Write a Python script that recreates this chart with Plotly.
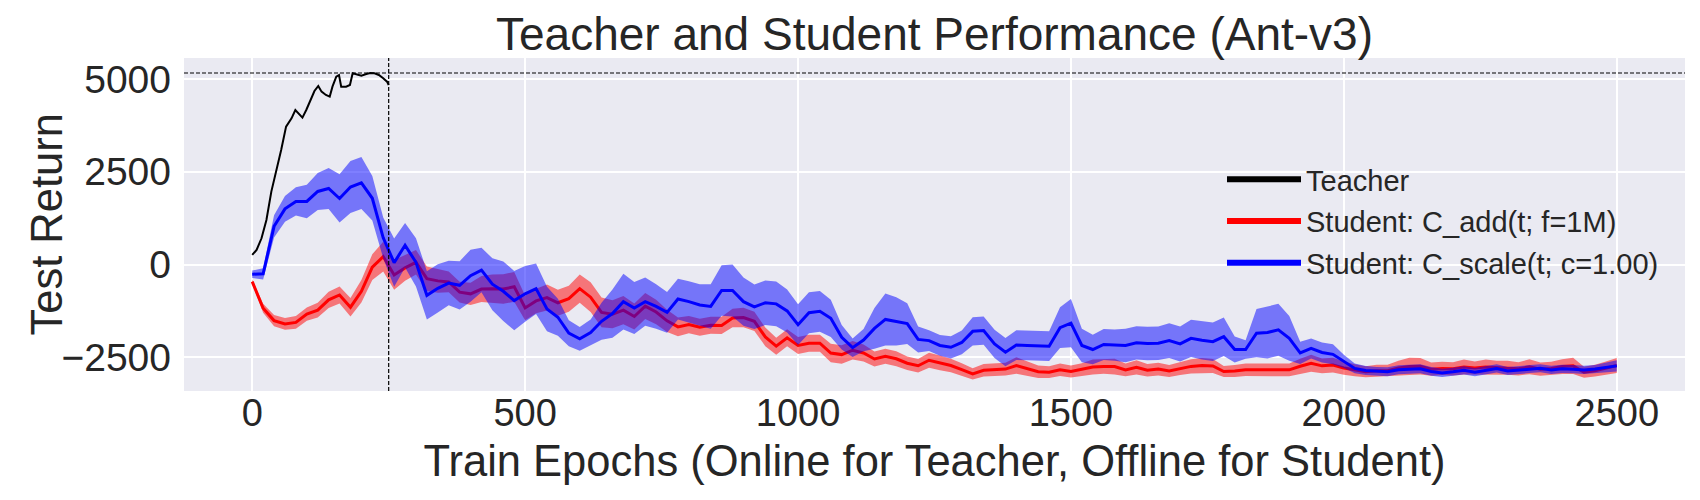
import plotly.graph_objects as go

# ---------------- data ----------------
teacher_epochs = [0, 8, 17, 26, 35, 44, 53, 62, 72, 79, 85, 92, 99, 108, 114, 121, 127, 135,
                  142, 147, 154, 159, 163, 172, 179, 184, 191, 200, 209, 216, 224, 232, 240, 247, 250]
teacher_return = [259, 394, 708, 1202, 1965, 2504, 3088, 3716, 3941, 4165, 4075, 3959, 4165, 4480,
                  4677, 4812, 4659, 4570, 4525, 4794, 5063, 5108, 4794, 4794, 4839, 5153, 5126, 5090,
                  5135, 5162, 5153, 5108, 5018, 4929, 4839]

student_epochs = list(range(0, 2501, 20))

add_mean = [-460, -1178, -1510, -1600, -1560, -1335, -1230, -950, -820, -1150,
            -720, -70, 214, -280, -90, 60, -380, -440, -470, -745,
            -790, -660, -650, -660, -600, -1170, -980, -890, -1030, -920,
            -650, -880, -1291, -1340, -1230, -1400, -1120, -1280, -1518, -1680,
            -1620, -1690, -1636, -1640, -1440, -1427, -1530, -1950, -2200, -1973,
            -2180, -2120, -2120, -2385, -2427, -2309, -2382, -2545, -2472, -2540,
            -2660, -2727, -2580, -2650, -2720, -2830, -2945, -2850, -2836, -2818,
            -2720, -2800, -2890, -2900, -2836, -2882, -2830, -2760, -2745, -2750,
            -2840, -2770, -2850, -2818, -2870, -2810, -2745, -2720, -2735, -2882,
            -2870, -2836, -2836, -2840, -2840, -2838, -2740, -2660, -2730, -2710,
            -2790, -2848, -2890, -2860, -2860, -2790, -2745, -2740, -2820, -2800,
            -2810, -2760, -2790, -2760, -2780, -2780, -2810, -2755, -2820, -2800,
            -2750, -2730, -2902, -2860, -2794, -2720]
add_std = [60, 120, 150, 160, 170, 180, 200, 220, 230, 250,
           300, 350, 400, 400, 350, 330, 330, 320, 280, 280,
           300, 350, 380, 400, 400, 330, 330, 350, 350, 350,
           380, 400, 400, 380, 380, 350, 350, 330, 300, 250,
           230, 230, 230, 230, 250, 260, 260, 250, 230, 230,
           230, 230, 230, 250, 250, 250, 230, 200, 200, 200,
           180, 180, 200, 200, 180, 170, 150, 170, 170, 170,
           220, 200, 170, 160, 170, 160, 170, 200, 200, 210,
           170, 190, 170, 170, 160, 170, 190, 200, 190, 150,
           160, 170, 170, 170, 170, 170, 200, 230, 200, 200,
           180, 160, 150, 160, 160, 200, 230, 220, 180, 180,
           180, 200, 180, 200, 190, 190, 180, 200, 180, 180,
           200, 220, 150, 160, 180, 200]

scale_mean = [-262, -250, 1030, 1500, 1700, 1700, 1970, 2050, 1780, 2090,
              2200, 1786, 720, 50, 520, 60, -830, -640, -500, -560,
              -300, -150, -530, -720, -973, -790, -650, -1200, -1420, -1850,
              -2000, -1830, -1530, -1320, -1000, -1170, -1000, -1130, -1290, -930,
              -1000, -1090, -1130, -700, -700, -1000, -1140, -1030, -1060, -1250,
              -1620, -1300, -1260, -1450, -1960, -2240, -2036, -1720, -1480, -1530,
              -1590, -2018, -2050, -2180, -2230, -2100, -1800, -1780, -2140, -2363,
              -2170, -2180, -2180, -2200, -1700, -1580, -2182, -2290, -2154, -2170,
              -2180, -2110, -2127, -2120, -2050, -2140, -1990, -2040, -2080, -1945,
              -2290, -2291, -1850, -1830, -1760, -1990, -2380, -2260, -2370, -2420,
              -2609, -2800, -2854, -2880, -2890, -2836, -2820, -2810, -2880, -2920,
              -2890, -2850, -2900, -2845, -2800, -2870, -2840, -2815, -2795, -2839,
              -2810, -2820, -2839, -2815, -2780, -2731]
scale_std = [100, 150, 300, 350, 380, 450, 500, 550, 650, 700,
             700, 600, 550, 650, 600, 650, 650, 650, 600, 650,
             700, 600, 700, 800, 800, 750, 680, 600, 500, 350,
             320, 350, 500, 650, 750, 700, 650, 600, 550, 550,
             550, 560, 600, 680, 700, 650, 600, 600, 600, 580,
             550, 550, 550, 500, 330, 250, 300, 550, 700, 650,
             550, 350, 280, 280, 300, 320, 380, 380, 380, 380,
             400, 400, 400, 400, 550, 650, 450, 400, 420, 420,
             450, 450, 450, 450, 470, 470, 500, 520, 520, 520,
             350, 250, 650, 700, 700, 600, 300, 270, 270, 270,
             180, 130, 120, 120, 120, 120, 120, 120, 120, 110,
             110, 110, 110, 110, 110, 110, 110, 110, 110, 110,
             110, 110, 110, 110, 130, 150]

legend_names = ["Teacher", "Student: C_add(t; f=1M)", "Student: C_scale(t; c=1.00)"]
y_ticks = [-2500, 0, 2500, 5000]
x_ticks = [0, 500, 1000, 1500, 2000, 2500]
switch_epoch = 250

# ---------------- figure ----------------
TXT = "#262626"
FONT = "Liberation Sans, Arial, sans-serif"

fig = go.Figure()


def band(x, mean, std, color):
    upper = [m + s for m, s in zip(mean, std)]
    lower = [m - s for m, s in zip(mean, std)]
    return go.Scatter(x=list(x) + list(x)[::-1], y=upper + lower[::-1], fill="toself",
                      fillcolor=color, line=dict(width=0), mode="lines",
                      hoverinfo="skip", showlegend=False)


fig.add_trace(go.Scatter(x=teacher_epochs, y=teacher_return, mode="lines",
                         line=dict(color="black", width=2), showlegend=False))
fig.add_trace(go.Scatter(x=student_epochs, y=add_mean, mode="lines",
                         line=dict(color="red", width=3), showlegend=False))
fig.add_trace(band(student_epochs, add_mean, add_std, "rgba(255,0,0,0.5)"))
fig.add_trace(go.Scatter(x=student_epochs, y=scale_mean, mode="lines",
                         line=dict(color="blue", width=3), showlegend=False))
fig.add_trace(band(student_epochs, scale_mean, scale_std, "rgba(0,0,255,0.5)"))

for name, col in zip(legend_names, ["black", "red", "blue"]):
    fig.add_trace(go.Scatter(x=[None], y=[None], mode="lines", name=name,
                             legendgroup=name, line=dict(color=col, width=6)))

teacher_best = max(teacher_return)
fig.add_shape(type="line", xref="paper", x0=0, x1=1, yref="y", y0=teacher_best, y1=teacher_best,
              line=dict(color="black", width=1.2, dash="4px,2px"))
fig.add_shape(type="line", xref="x", x0=switch_epoch, x1=switch_epoch, yref="paper", y0=0, y1=1,
              line=dict(color="black", width=1.2, dash="4px,2px"))


def fmt(v):
    return ("\u2212" + str(-v)) if v < 0 else str(v)


L, R, T, B = 176, 23, 50, 117
PW = 1700 - L - R

fig.add_annotation(text="Test Return", textangle=-90, xref="paper", yref="paper",
                   x=(38 - L) / PW, y=0.5, xanchor="center", yanchor="middle",
                   showarrow=False, font=dict(size=43.5, color=TXT, family=FONT))

fig.update_layout(
    width=1700, height=500,
    margin=dict(l=L, r=R, t=T, b=B),
    paper_bgcolor="white", plot_bgcolor="#EAEAF2",
    font=dict(family=FONT, color=TXT),
    title=dict(text="Teacher and Student Performance (Ant-v3)",
               x=(L + PW / 2) / 1700, xanchor="center",
               y=1 - 26 / 500, yanchor="middle", yref="container",
               font=dict(size=46, color=TXT, family=FONT)),
    xaxis=dict(range=[-125, 2625], tickvals=x_ticks, ticktext=[fmt(v) for v in x_ticks],
               showgrid=True, gridcolor="white", gridwidth=1.5, zeroline=False,
               ticks="", showline=False, tickfont=dict(size=38, color=TXT),
               ticklabelstandoff=-4,
               title=dict(text="Train Epochs (Online for Teacher, Offline for Student)",
                          font=dict(size=43.5, color=TXT), standoff=12)),
    yaxis=dict(range=[-3408, 5566], tickvals=y_ticks, ticktext=[fmt(v) for v in y_ticks],
               showgrid=True, gridcolor="white", gridwidth=1.5, zeroline=False,
               ticks="", showline=False, tickfont=dict(size=39, color=TXT),
               ticklabelstandoff=12),
    legend=dict(x=(1214 - L) / PW, y=0.712, xanchor="left", yanchor="top",
                bgcolor="rgba(0,0,0,0)", itemwidth=74,
                font=dict(size=29, color=TXT), tracegroupgap=1, traceorder="grouped"),
    showlegend=True,
)

fig.write_html("out.html")
